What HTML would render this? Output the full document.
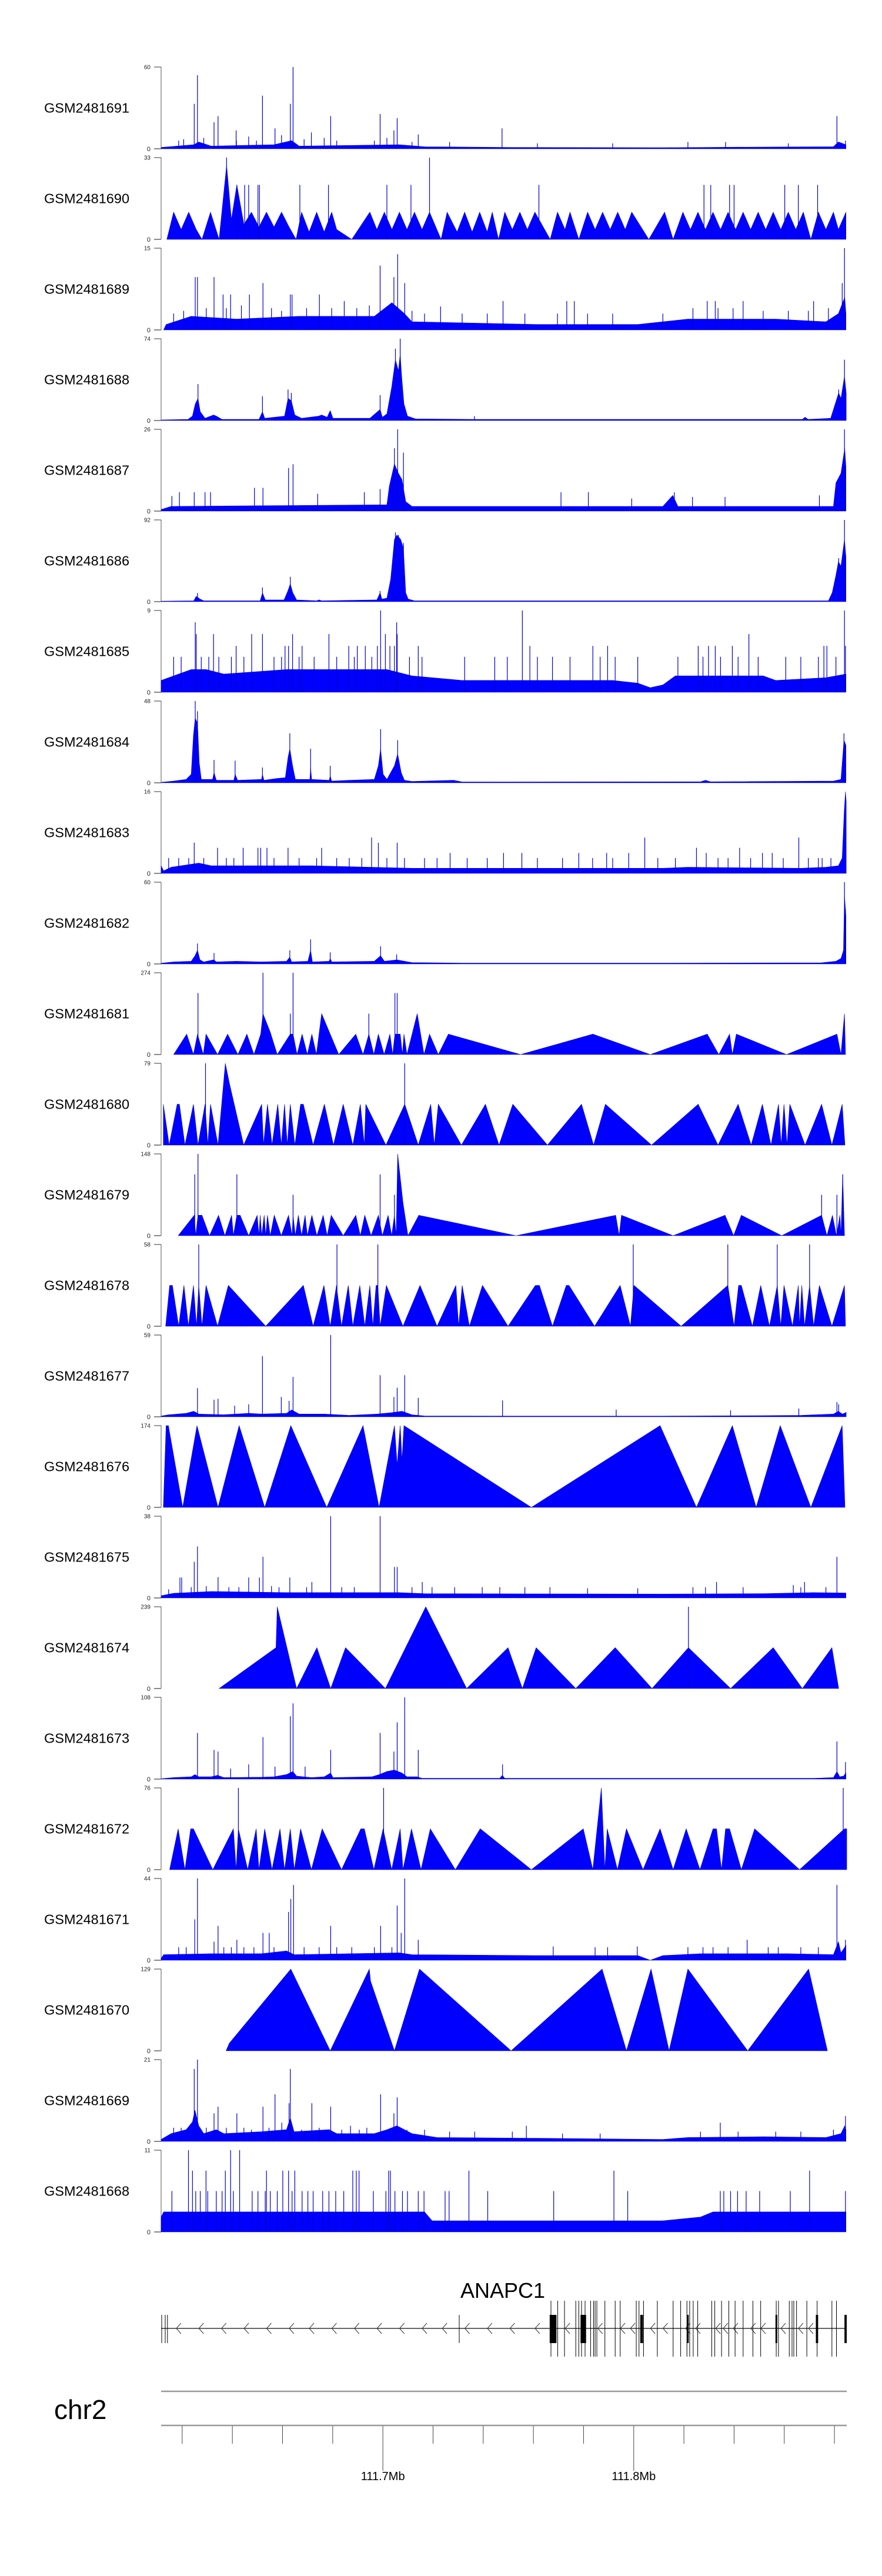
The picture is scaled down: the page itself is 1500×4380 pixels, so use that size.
<!DOCTYPE html>
<html><head><meta charset="utf-8"><title>ANAPC1 coverage tracks</title>
<style>
html,body{margin:0;padding:0;background:#fff;}
svg{display:block;font-family:"Liberation Sans",sans-serif;}
</style></head>
<body>
<svg id="chart" xmlns="http://www.w3.org/2000/svg" width="1500" height="4380" viewBox="0 0 1500 4380">
<rect x="0" y="0" width="1500" height="4380" fill="#fff"/>
<g id="tracks"></g>
<g id="gene"></g>
<g id="axis"></g>
</svg>
<script>
// ---- data (positions in kb offset from region start 111,611.6 kb) ----
const regionStartKb = 111611.6;
const regionLenKb = 273.3;
const trackNames = ["GSM2481691","GSM2481690","GSM2481689","GSM2481688","GSM2481687","GSM2481686","GSM2481685","GSM2481684","GSM2481683","GSM2481682","GSM2481681","GSM2481680","GSM2481679","GSM2481678","GSM2481677","GSM2481676","GSM2481675","GSM2481674","GSM2481673","GSM2481672","GSM2481671","GSM2481670","GSM2481669","GSM2481668"];
const trackMax = [60,33,15,74,26,92,9,48,16,60,274,79,148,58,59,174,38,239,108,76,44,129,21,11];

const area0 = [[0,1],[13,3],[15,5],[20,2],[45,3],[52,6],[55,2],[95,3],[105,1.5],[140,1],[200,0.8],[230,1.2],[268,1.5],[270,5],[273,3]];
const spk0 = [[13.2,33],[14.5,54],[21.1,19.5],[22.7,24],[29.9,13.5],[34.9,9],[40.4,39],[45.4,15],[51.5,33],[52.6,60],[59.9,12],[67.6,24],[87.3,25.5],[92.8,13.5],[94.1,22.5],[102.5,10.5],[135.9,15],[269.4,24],[272.8,6],[7,6],[9,7],[17,8],[30,6],[38,6],[48,10],[57,7],[65,8],[70,6],[85,6],[90,8],[100,5],[115,5],[150,4],[180,4],[210,5],[225,5],[250,4]];

const area1 = [[2.3,0],[5,11],[8,4],[11,11],[14,4],[16.3,0],[19.7,11],[23.1,0],[26.1,30],[28,8],[30.2,22],[33,6],[36,11],[39,5],[42,11],[45,5],[48,11],[51,5],[53.8,0],[56,11],[59,3],[62,11],[65,3],[68,11],[70,4],[76,0],[83.2,11],[86,4],[89,11],[92,4],[95,11],[98,4],[101,11],[104,4],[107,11],[111.6,0],[114,11],[118,3],[121,11],[124,3],[127,11],[130,3],[132,11],[134.5,0],[137,11],[140,4],[143,11],[146,4],[149,11],[155.1,0],[158,11],[161,4],[163,11],[166.5,0],[170,11],[173,4],[176,11],[179,4],[182,11],[185,4],[187.6,11],[194.4,0],[200.7,11],[204.1,0],[208,11],[211,4],[214,11],[217,4],[220,11],[223,4],[226,11],[229,4],[232,11],[235,4],[238,11],[241,4],[244,11],[247,4],[250,11],[253,4],[256,11],[259,0],[262,11],[265,4],[268,11],[270,4],[273,11],[273,0]];
const spk1 = [[30.2,22],[33.3,22],[34.9,22],[38.6,22],[39.2,22],[55.3,22],[66.7,22],[90,22],[99.6,22],[150.6,22],[216.4,22],[219.1,22],[226.6,22],[228.4,22],[248.6,22],[254,22],[261.7,22],[26.1,33],[107,33]];

const area2 = [[1,0],[2,1],[12,2.5],[30,2],[55,2.5],[85,2.5],[92,5],[97,3],[100,1.5],[150,1],[190,1],[210,2],[245,2],[265,1.5],[270,3],[272.5,6],[273,3]];
const spk2 = [[13.6,9.7],[14.5,9.7],[21.1,9.7],[24.7,6.5],[27.7,6.5],[35.2,6.5],[40.6,8.6],[51.5,6.5],[52.2,6.5],[63.1,6.5],[73,5.3],[87.3,11.8],[92.8,9.7],[94.3,13.9],[97.1,8.6],[111.4,4.3],[136.3,5.3],[161.7,5.3],[164.7,5.3],[217.7,5.3],[220.9,5.3],[232,5.3],[260.1,5.3],[271.5,8.6],[272.4,15],[5,3],[9,3.5],[18,4],[26,4],[32,4.5],[44,4],[48,3.5],[58,4],[68,4],[78,4],[83,4.5],[100,3.5],[105,3],[120,3],[130,3],[145,3],[158,3],[170,3],[180,3],[200,3],[212,4],[222,4],[228,4],[240,3.5],[250,3.5],[258,3.5],[266,4]];

const area3 = [[0,0.5],[10.7,1],[12.5,4],[13.6,15],[14.7,20],[15.6,8],[17.5,2],[20.9,5],[22,4],[24.3,1],[39,1],[40.4,8],[41.3,2],[49.2,4],[50.6,20],[51.9,18],[53.3,5],[56,2],[62.8,4],[64,5],[66.2,3],[67.4,9],[68.5,2],[83.2,2],[87.3,10],[88.2,3],[90,6],[91.9,30],[93.4,55],[94.6,45],[95.3,60],[95.9,40],[96.8,15],[98.2,4],[101.4,1.5],[124,1],[125.2,1],[200,1],[255.6,1],[256.7,3],[257.9,1],[266.9,2],[268.7,15],[270.1,25],[271,20],[272.4,40],[273.1,25]];
const spk3 = [[14.7,33],[40.4,22],[50.6,28],[51.9,25],[87.3,23],[93.4,65],[95.3,74],[272.4,55],[270.1,28],[124.9,4]];

const area4 = [[0,0.5],[4,1.5],[90,2],[91,8],[93,15],[94.6,12],[96,10],[97.5,3],[100,1.5],[200,1.5],[204,5],[206,1.5],[268,1.5],[269,9],[271,12],[272.5,20],[273,14]];
const spk4 = [[50.8,13.7],[52.6,14.9],[37.2,7.4],[40.6,7.4],[93,20],[94.3,26],[96.6,18.6],[272.4,26],[271.5,13.7],[4.3,4.8],[7.3,6],[13.2,6],[17.5,6],[19.7,6],[62.4,5.5],[81,6],[87.3,7],[159.4,6],[170.3,6],[187.6,4],[204.6,6],[211.8,4.5],[224.8,4.5],[262.4,5]];

const area5 = [[0,0.5],[13,1],[14,6],[15.5,3],[17,1],[39.5,1],[40.4,10],[41.5,2],[49,2],[50.5,12],[51.5,20],[52.5,10],[54,2],[62,1],[63,2],[64,1],[86,2],[87.3,10],[88,3],[90,4],[91.5,25],[93,70],[94,75],[95.5,70],[96.6,60],[97.5,10],[98.5,3],[101,1],[266,1],[267.5,10],[269,30],[270,45],[271,40],[272.4,70],[273,50]];
const spk5 = [[14.5,9.7],[40.4,16],[51.5,28],[87.3,12],[93.4,78],[94.6,75],[96.6,66],[272.4,92],[270.1,49]];

const area6 = [[0,1.3],[12,2.5],[18,2.5],[25,2],[50,2.5],[90,2.5],[100,1.8],[120,1.3],[180,1.3],[190,1],[195,0.5],[200,0.8],[205,1.8],[240,1.8],[245,1.3],[265,1.6],[273,2]];
const spk6 = [[13.6,7.7],[14,6.4],[20.9,6.4],[36.1,6.4],[40.4,6.4],[52.4,6.4],[66.9,6.4],[87.5,9],[89.4,6.4],[93.9,7.7],[94.1,6.4],[144,9],[272.4,9],[272.8,5.1],[29.9,5.1],[49.4,5.1],[50.8,5.1],[56.2,5.1],[74.8,5.1],[78.2,5.1],[81.4,5.1],[86.2,5.1],[91.2,5.1],[93,5.1],[102.5,5.1],[147,5.1],[172.1,5.1],[178,5.1],[214.1,5.1],[218.2,5.1],[220.9,5.1],[227.7,5.1],[234.3,6.4],[264.2,5.1],[265.4,5.1],[5,3.9],[8,3.9],[16,3.9],[19,3.9],[23,3.9],[28,3.9],[33,3.9],[45,3.9],[48,3.9],[55,3.9],[61,3.9],[70,3.9],[77,3.9],[84,3.9],[99,3.9],[104,3.9],[121,3.9],[133,3.9],[138,3.9],[150,3.9],[156,3.9],[163,3.9],[175,3.9],[181,3.9],[190,3.9],[206,3.9],[216,3.9],[223,3.9],[230,3.9],[238,3.9],[249,3.9],[255,3.9],[262,3.9],[269,3.9]];

const area7 = [[0,0.3],[5,1],[10,2],[12,5],[12.9,28],[13.6,38],[14.5,35],[15.2,12],[16,2],[20.5,2],[21.1,6],[22,1.5],[29,1.5],[29.5,5],[30.5,1.5],[40,2],[40.4,5],[41,1.5],[45.8,2.5],[49.5,3],[50.6,15],[51.3,20],[52.4,10],[53.5,2],[59.3,2],[59.6,9],[60,2],[67,1.5],[67.4,4],[68,1],[75,1.5],[85,2],[86.6,10],[87.5,20],[88.5,5],[90,2],[93,10],[94.3,17],[95.7,6],[97,1.5],[100,0.8],[116.6,1.5],[120,0.5],[215,0.6],[217,1.5],[219,0.6],[268,1],[271,2],[272.2,25],[273,22]];
const spk7 = [[13.6,48],[14.5,42],[21.1,13.4],[29.5,13],[40.4,9],[51.3,29],[59.6,20],[67.4,10],[87.5,31.5],[94.3,25],[272.2,29]];

const area8 = [[0,1.5],[1,0.5],[4,1.2],[15,2],[20,1.5],[60,1.5],[100,1],[200,1],[210,1.2],[255,1],[265,1.2],[270,1.5],[271.5,3],[272.3,12],[272.8,16],[273.1,14]];
const spk8 = [[13.2,6],[83.9,7],[192.8,7],[254.2,7],[86.6,6],[94.1,6],[213.4,5],[22.5,5],[32.7,5],[38.6,5],[39.7,5],[42.2,5],[50.6,5],[64,5],[115.2,4],[136.5,4],[143.8,4],[166.5,4],[177.6,4],[186.4,4],[217.3,4],[230.6,5],[239.7,4],[243.6,4],[263.5,3],[3,3],[7,3],[11,3],[17,3],[26,3],[29,3],[45,3],[55,3],[62,3],[70,3],[75,3],[80,3],[90,3],[97,3],[105,3],[110,3],[122,3],[130,3],[150,3],[160,3],[172,3],[180,3],[198,3],[205,3],[222,3],[226,3],[235,3],[248,3],[258,3],[262,3],[267,3]];

const area9 = [[0,0.5],[5,1.5],[12,2],[13.5,6],[14.5,10],[15.5,3],[17,1.5],[21,3],[22,1.5],[30,2],[40,1.5],[50,2],[51.3,5],[52,1.5],[58.5,2],[59.6,10],[60.3,1.5],[67,2],[67.4,4],[68,1.5],[85,2],[87.5,6],[89,2],[94,3],[100,1],[120,0.6],[200,0.6],[263,0.8],[269,2],[271,4],[272,10],[272.4,50],[272.8,40],[273,35]];
const spk9 = [[14.5,15],[21.1,8],[51.3,10],[59.6,18],[67.4,8.5],[87.5,13],[93.9,7],[272.4,60],[272.8,40]];

const area10 = [[5,0],[10.2,68.5],[12.9,0],[14.5,68.5],[16.8,0],[17.9,68.5],[22.5,0],[26.5,68.5],[30.6,0],[34.2,68.5],[37,0],[39.7,68.5],[40.6,137],[43.5,75],[46.3,0],[51.5,68.5],[52.6,68.5],[54.2,0],[56.2,68.5],[58.3,0],[60.1,68.5],[61.9,0],[64,137],[70.8,0],[77.6,68.5],[80.5,0],[82.8,68.5],[84.8,0],[86.6,68.5],[88.9,0],[91.2,68.5],[92.3,0],[93.2,68.5],[94.1,68.5],[95.3,68.5],[96.2,0],[96.8,68.5],[98,0],[102.1,137],[104.8,0],[107,68.5],[110.5,0],[114.5,68.5],[143.3,0],[172.1,68.5],[195,0],[217.7,68.5],[222.3,0],[226.6,68.5],[227.7,0],[229.3,68.5],[249.3,0],[269.4,68.5],[271,0],[272.4,137],[272.8,0]];
const spk10 = [[14.7,206],[40.6,274],[51.5,137],[52.6,274],[82.8,137],[93.2,206],[94.1,206]];

const area11 = [[0.9,39.5],[3.2,0],[6.4,39.5],[7.3,39.5],[9.5,0],[12.9,39.5],[14.7,0],[17.5,39.5],[18.6,0],[19.7,39.5],[22.7,0],[25.6,79],[27.2,60],[32.9,0],[40.1,39.5],[40.8,0],[42.4,39.5],[44.2,0],[46.5,39.5],[47.9,0],[49.2,39.5],[50.3,0],[51.5,39.5],[53.3,0],[55.6,39.5],[56.7,39.5],[60.6,0],[65.1,39.5],[68.7,0],[72.6,39.5],[76.4,0],[79.4,39.5],[81,0],[81.6,39.5],[89.6,0],[97.1,39.5],[102.5,0],[107.5,39.5],[108.9,0],[110.5,39.5],[119.7,0],[129.3,39.5],[134.7,0],[140.2,39.5],[154,0],[167.6,39.5],[172.4,0],[177.1,39.5],[195.5,0],[214.1,39.5],[222,0],[230,39.5],[235.2,0],[239.7,39.5],[243.1,0],[246.1,39.5],[247.2,0],[248.3,39.5],[249.5,0],[250.6,39.5],[256.7,0],[263.3,39.5],[267.4,0],[271.5,39.5],[272.6,0]];
const spk11 = [[17.7,79],[97.1,79]];

const area12 = [[6.8,0],[13.2,37],[13.8,0],[14.7,37],[16.3,37],[19.3,0],[22.9,37],[25.4,0],[28.1,37],[28.8,0],[30.2,37],[31.5,37],[34.9,0],[38.3,37],[39,0],[39.5,37],[40.1,0],[41.1,37],[41.7,0],[42.4,37],[43.5,0],[45.1,37],[47.9,0],[50.8,37],[52.2,0],[52.6,37],[53.5,0],[54.7,37],[56,0],[57.4,37],[58.3,0],[60.1,37],[62.1,0],[64.6,37],[66.2,0],[67.8,37],[72.6,0],[77.6,37],[79.4,0],[81.2,37],[83.7,0],[86.6,37],[88.2,0],[90.5,37],[91.9,0],[93,37],[93.7,0],[94.3,148],[96.4,60],[98.4,0],[102.7,37],[141.5,0],[181.2,37],[182.6,0],[183.5,37],[204.1,0],[224.8,37],[228.2,0],[231.3,37],[247.4,0],[263.3,37],[265.4,0],[267.6,37],[269.2,0],[270.6,37],[271,0],[271.7,111],[272.4,0]];
const spk12 = [[13.4,111],[14.7,148],[30.2,111],[52.6,74],[87.3,111],[93,74],[263.3,74],[269.4,74],[271.7,111]];

const area13 = [[1.8,0],[3.4,29],[4.5,29],[7,0],[9.1,29],[10.9,0],[12.9,29],[14.1,0],[15,29],[16.3,0],[17.9,29],[22.5,0],[26.8,29],[41.7,0],[56.7,29],[60.6,0],[64.9,29],[67.4,0],[69.9,29],[71.9,0],[74.6,29],[76.4,0],[79.2,29],[81.2,0],[83.2,29],[84.4,0],[85.7,29],[86.4,29],[87.3,0],[89.8,29],[96.4,0],[103.2,29],[110,0],[117.5,29],[118.6,0],[120,29],[122.9,0],[128.1,29],[138.3,0],[149.2,29],[150.8,29],[156,0],[161.5,29],[162.6,29],[172.8,0],[183,29],[187.1,0],[188.5,29],[207.3,0],[225.9,29],[228.4,0],[230.2,29],[231.3,29],[235.7,0],[239,29],[242.5,0],[245.6,29],[247,0],[248.3,29],[251.7,0],[254,29],[254.5,0],[255.4,29],[256.5,0],[258.5,29],[260.1,0],[262.4,29],[267.4,0],[272.4,29],[272.8,0]];
const spk13 = [[15,58],[70.1,58],[86.4,58],[188.2,58],[225.9,58],[245.6,58],[258.5,58]];

const area14 = [[0,0.5],[3,1.5],[10,2.5],[13,4],[15,2],[25,1.5],[35,2.5],[40,2],[50,2.5],[52,5],[55,2],[65,2],[75,1],[86,2],[92,3],[96,4],[100,1.5],[105,0.6],[150,0.5],[200,0.5],[240,0.8],[255,1],[268,2],[270,4],[271.5,2],[273,3]];
const spk14 = [[14.5,20.7],[21.1,12.3],[22.7,13],[29.3,8],[34.9,9],[40.4,43.8],[47.9,14.3],[51,11.5],[52.6,28.8],[67.6,59],[87.3,30],[92.8,14.3],[94.1,21],[97.1,30],[102.5,13.7],[136.1,11.8],[181.4,5.2],[227,4.7],[254.2,6],[269.4,10.6],[270.1,9],[273,3.4]];

const area15 = [[0.9,0],[2,174],[2.9,174],[8.6,0],[14.3,174],[22.7,0],[31.1,174],[41.3,0],[51.7,174],[66,0],[80.5,174],[86.9,0],[93,174],[94.1,90],[95.3,174],[96,100],[96.8,174],[147.6,0],[198.9,174],[213.4,0],[227.7,174],[237.2,0],[246.8,174],[259,0],[271.5,174],[272.6,0]];
const spk15 = [];

const area16 = [[0,1],[5,2.2],[20,3],[50,2.5],[95,2.5],[105,2],[200,1.8],[240,2],[260,2.5],[273,2.3]];
const spk16 = [[7.5,9.5],[8.2,9.5],[13.2,16.8],[14.5,23.9],[22.7,9.7],[34.9,9.5],[39.2,9.5],[40.6,19.1],[51.3,9.5],[60.1,7.4],[67.6,38],[87.3,38],[93,14.4],[94.1,14.4],[104.1,7.4],[221.4,7.4],[256.5,7.4],[269.4,19.1],[3,4],[12,5],[18,5.5],[27,5],[31,5],[44,5.5],[47,5],[58,5],[72,5],[77,5],[100,5],[108,5],[117,5],[128,5],[135,5],[145,5],[155,5],[170,4.5],[190,4.5],[212,5],[217,5],[232,5],[252,6],[255,5],[265,5]];

const area17 = [[23.1,0],[45.8,119.5],[46.3,239],[54,0],[62.1,119.5],[67.6,0],[73.5,119.5],[89.4,0],[105.5,239],[121.8,0],[138.3,119.5],[144,0],[149.5,119.5],[165.3,0],[181,119.5],[195.7,0],[210.2,119.5],[227,0],[244,119.5],[255.6,0],[267.4,119.5],[270.1,0]];
const spk17 = [[210.2,239]];

const area18 = [[0,0.5],[5,2],[12,3],[13.5,6],[15,3],[20,3],[22.5,5],[25,2],[40,2.5],[45,3],[50,6],[52.5,10],[54,4],[60,2],[65,3],[67.6,8],[68.5,2],[84,3],[87,6],[90,10],[93,12],[96,8],[98,3],[102,3],[104,1],[135,1],[136,5],[137,1],[160,1],[260,1],[268,2],[269.4,10],[270.5,3],[272,4],[273,8]];
const spk18 = [[14.5,61],[21.1,38.6],[22.7,36.4],[34.9,19.4],[40.6,55.5],[51.5,83],[52.6,100],[67.6,38.6],[87.3,61],[92.8,36.4],[94.1,75],[97.1,108],[102.5,38.6],[136.1,19.4],[269.4,49.7],[272.8,22.5],[27.7,13.9],[45.4,16.4],[57.4,16.4]];

const area19 = [[3.4,0],[6.8,38],[9.5,0],[11.8,38],[12.9,38],[20.6,0],[28.8,38],[29.9,0],[30.8,38],[34.5,0],[37.9,38],[39,0],[41.3,38],[44.2,0],[47.4,38],[49.2,0],[51.5,38],[53.1,0],[55.6,38],[59.9,0],[64.2,38],[71.9,0],[79.6,38],[81,38],[84.8,0],[88.5,38],[91.9,0],[95.3,38],[96.4,0],[99.8,38],[103.6,0],[107.3,38],[117.3,0],[127.2,38],[147.6,0],[168.3,38],[172.1,0],[175.5,76],[176.9,0],[177.8,38],[181.9,0],[185.5,38],[192.1,0],[198.9,38],[204.1,0],[209.3,38],[214.8,0],[220,38],[221.4,38],[223.4,0],[225,38],[226.6,38],[231.3,0],[236.6,38],[254.5,0],[272.4,38],[273.3,38],[273.3,0]];
const spk19 = [[30.8,76],[88.7,76],[271.9,76]];

const area20 = [[0,1],[1,3],[20,3.5],[40,3.5],[50,5],[53,3],[95,4],[100,3],[150,2.5],[190,2.5],[195,0],[200,2.5],[215,3.5],[250,3.5],[268,3],[270,10],[271,4],[273,8]];
const spk20 = [[13.4,22],[14.5,44],[21.1,10],[22.7,18.5],[30.2,11],[40.6,14.7],[43.1,14.7],[50.8,26],[51.7,33],[52.8,40.5],[67.6,18.5],[87.5,18.5],[94.1,29.4],[95.7,14.7],[97.1,44],[102.5,11],[156.3,7.4],[189.8,7.4],[233.6,11],[269.4,40.5],[272.8,11],[7,7],[10,7],[25,7],[28,7],[33,7],[37,7],[45,7],[57,7],[63,7],[70,7],[76,7],[85,7],[92,7],[173,7],[178,7],[210,7],[216,7],[220,7],[226,7],[242,7],[246,7],[255,7],[262,7]];

const area21 = [[25.9,0],[27.2,12],[51.7,129],[67.4,0],[83,129],[83.5,110],[93,0],[103,129],[139.5,0],[175.8,129],[185.5,0],[195.3,129],[202.5,0],[210,129],[233.8,0],[258.1,129],[265.6,0]];
const spk21 = [];

const area22 = [[0,0.5],[4,2],[10,3],[12.5,5],[13.5,8],[15,4],[17,2],[22,3],[25,2],[40,2.5],[50,3],[51.5,6],[53,2.5],[67,3],[70,2],[85,2],[90,3],[94,4],[100,2],[110,1],[150,0.8],[200,0.5],[210,1],[240,1.2],[265,1],[271,2],[272.5,4],[273,3]];
const spk22 = [[13.2,18.6],[14.5,21],[21.1,7.2],[22.7,8.9],[30.2,7.2],[40.6,8.9],[45.4,12.1],[48.1,4.8],[51,9.8],[51.5,18.6],[60.1,9.8],[67.6,8.9],[75.5,4],[87.5,12.1],[92.8,7.2],[94.1,11.3],[145.6,4],[222.9,4.8],[272.8,6.5],[5,3.5],[8,3.5],[18,3.5],[26,3.5],[33,3.5],[36,3],[43,3.5],[56,3],[63,3.5],[72,3],[79,3],[82,3.5],[98,3],[105,3],[115,2.5],[125,2.5],[140,2.5],[160,2],[175,2],[215,2.5],[230,2.5],[245,2.5],[255,2.5],[268,3]];

const area23 = [[0,2],[1,2.7],[105,2.7],[108,1.5],[140,1.5],[200,1.5],[215,2],[220,2.7],[273,2.7]];
const spk23 = [[10.9,11],[27.7,11],[31.3,11],[12.5,8.25],[17.9,8.25],[25.6,8.25],[42,8.25],[48.5,8.25],[50.8,8.25],[53.3,8.25],[76.4,8.25],[77.8,8.25],[78.9,8.25],[90.7,8.25],[91.4,8.25],[122.7,8.25],[180.5,8.25],[258.5,8.25],[4.3,5.5],[13.8,5.5],[15.6,5.5],[18.6,5.5],[22,5.5],[24.3,5.5],[28.8,5.5],[36.3,5.5],[38.6,5.5],[41.5,5.5],[43.5,5.5],[46.3,5.5],[52.2,5.5],[56.2,5.5],[58.5,5.5],[60.6,5.5],[64.4,5.5],[66.9,5.5],[69.6,5.5],[72.8,5.5],[84.6,5.5],[89.6,5.5],[93.2,5.5],[96.2,5.5],[98.2,5.5],[102.5,5.5],[104.8,5.5],[113.2,5.5],[114.8,5.5],[130.2,5.5],[156.5,5.5],[186,5.5],[222.9,5.5],[224.3,5.5],[227,5.5],[229.8,5.5],[233.2,5.5],[238.6,5.5],[250.8,5.5],[272.8,5.5]];

const trackAreas = [area0,area1,area2,area3,area4,area5,area6,area7,area8,area9,area10,area11,area12,area13,area14,area15,area16,area17,area18,area19,area20,area21,area22,area23];
const trackSpikes = [spk0,spk1,spk2,spk3,spk4,spk5,spk6,spk7,spk8,spk9,spk10,spk11,spk12,spk13,spk14,spk15,spk16,spk17,spk18,spk19,spk20,spk21,spk22,spk23];

// gene model (kb offsets)
const geneName = "ANAPC1";
const geneStartKb = 0;
const geneEndKb = 273.3;
const exonLines = [155.4,158.1,160.8,165.3,166.5,167.6,169,171.2,172.4,173,173.7,176.9,181,183,189.4,190.5,192.3,197.8,204.1,207.1,209.6,210.7,212.1,213.9,219.5,220.7,223.4,226.3,228.8,232,235.9,239,245.2,246.1,250.4,251.5,252.2,253.3,257.4,261.5,267.4,269.2];
const utrLines = [0,1.4,2.3,118.6];
const codingBlocks = [[154.9,157.6],[167.2,169.4],[191,192.1],[209.6,210.3],[244.9,245.6],[261,261.9],[272.4,273.3]];
const chevronKb = [7,16,25,34,43,52,60,69,78,87,96,105,113,122,131,140,150,162,175,184,188,196,201,210,214,222,225,229,236,240,248,255,259];

// axis
const axisTicksMb = [111.62,111.64,111.66,111.68,111.70,111.72,111.74,111.76,111.78,111.80,111.82,111.84,111.86,111.88];
const axisLabelsMb = [111.7,111.8];
const chromName = "chr2";

// ---- scales ----
const X0 = 274, X1 = 1440;
function xScale(kb){ return X0 + kb * (X1 - X0) / regionLenKb; }
function xMb(mb){ return xScale(mb*1000 - regionStartKb); }
const TOP0 = 114, STEP = 154, H = 139;
function baseY(i){ return TOP0 + STEP*i + H; }
function yScale(i, v){ return baseY(i) - Math.min(v, trackMax[i]) / trackMax[i] * H; }

const NS = "http://www.w3.org/2000/svg";
function mk(tag, attrs, parent){
  const e = document.createElementNS(NS, tag);
  for (const k in attrs) e.setAttribute(k, attrs[k]);
  parent.appendChild(e);
  return e;
}

// ---- tracks ----
const gTracks = document.getElementById('tracks');
trackNames.forEach(function(name, i){
  const g = mk('g', {}, gTracks);
  
  
  const b = baseY(i), t = b - H;

  const lab = mk('text', {x: 75, y: (t+b)/2 + 8, 'font-size': 23.5, fill: '#000'}, g);
  lab.textContent = name;
  
  

  const ax = mk('line', {x1: X0, y1: t, x2: X0, y2: b, stroke: '#555', 'stroke-width': 1}, g);
  
  
  const tk1 = mk('line', {x1: 262, y1: t, x2: X0, y2: t, stroke: '#333', 'stroke-width': 1}, g);
  
  
  const tk0 = mk('line', {x1: 262, y1: b, x2: X0, y2: b, stroke: '#888', 'stroke-width': 2}, g);
  
  
  const lmax = mk('text', {x: 256, y: t + 3.5, 'font-size': 10, 'text-anchor': 'end', fill: '#222'}, g);
  lmax.textContent = String(trackMax[i]);
  
  
  const l0 = mk('text', {x: 256, y: b + 4, 'font-size': 11, 'text-anchor': 'end', fill: '#222'}, g);
  l0.textContent = '0';
  
  

  const pts = trackAreas[i];
  if (pts.length){
    let d = 'M' + xScale(pts[0][0]).toFixed(1) + ',' + b;
    pts.forEach(function(p){ d += 'L' + xScale(p[0]).toFixed(1) + ',' + yScale(i, p[1]).toFixed(1); });
    d += 'L' + xScale(pts[pts.length-1][0]).toFixed(1) + ',' + b + 'Z';
    const area = mk('path', {d: d, fill: '#0000ff', stroke: '#0000cc', 'stroke-width': 0.6}, g);
    
    
  }
  trackSpikes[i].forEach(function(s){
    const x = xScale(s[0]);
    const ln = mk('line', {x1: x, y1: b, x2: x, y2: yScale(i, s[1]), stroke: '#0000d0', 'stroke-width': 1.2}, g);
    
    
  });
});

// ---- gene track ----
const gGene = document.getElementById('gene');
const GY = 3959;
const gl = mk('text', {x: 855, y: 3907, 'font-size': 36, 'text-anchor': 'middle', fill: '#000'}, gGene);
gl.textContent = geneName;


const bb = mk('line', {x1: xScale(geneStartKb), y1: GY, x2: xScale(geneEndKb), y2: GY, stroke: '#333', 'stroke-width': 1.5}, gGene);


chevronKb.forEach(function(k){
  const x = xScale(k);
  const c = mk('polyline', {points: (x+4)+','+(GY-9)+' '+(x-4)+','+GY+' '+(x+4)+','+(GY+9), fill: 'none', stroke: '#333', 'stroke-width': 1}, gGene);
  
  
});
exonLines.forEach(function(k){
  const x = xScale(k);
  const e = mk('line', {x1: x, y1: 3912, x2: x, y2: 4007, stroke: '#000', 'stroke-width': 1}, gGene);
  
  
});
utrLines.forEach(function(k){
  const x = xScale(k) + 1;
  const e = mk('line', {x1: x, y1: 3936, x2: x, y2: 3984, stroke: '#000', 'stroke-width': 1}, gGene);
  
  
});
codingBlocks.forEach(function(c){
  const x = xScale(c[0]), w = Math.max(3, xScale(c[1]) - x);
  const r = mk('rect', {x: x, y: 3936, width: w, height: 48, fill: '#000'}, gGene);
  
  
});

// ---- axis ----
const gAxis = document.getElementById('axis');
const chrLine = mk('line', {x1: X0, y1: 4066, x2: X1, y2: 4066, stroke: '#999', 'stroke-width': 2.5}, gAxis);


const chrT = mk('text', {x: 92, y: 4113, 'font-size': 46, fill: '#000'}, gAxis);
chrT.textContent = chromName;


const axLine = mk('line', {x1: X0, y1: 4124, x2: X1, y2: 4124, stroke: '#999', 'stroke-width': 2.5}, gAxis);


axisTicksMb.forEach(function(mb){
  const x = xMb(mb);
  const major = axisLabelsMb.some(function(l){ return Math.abs(l - mb) < 1e-6; });
  const t = mk('line', {x1: x, y1: 4125, x2: x, y2: major ? 4201 : 4155, stroke: '#444', 'stroke-width': 1}, gAxis);
  
  
});
axisLabelsMb.forEach(function(mb){
  const t = mk('text', {x: xMb(mb), y: 4217, 'font-size': 20, 'text-anchor': 'middle', fill: '#000'}, gAxis);
  t.textContent = mb.toFixed(1) + 'Mb';
  
  
});
</script>
</body></html>
